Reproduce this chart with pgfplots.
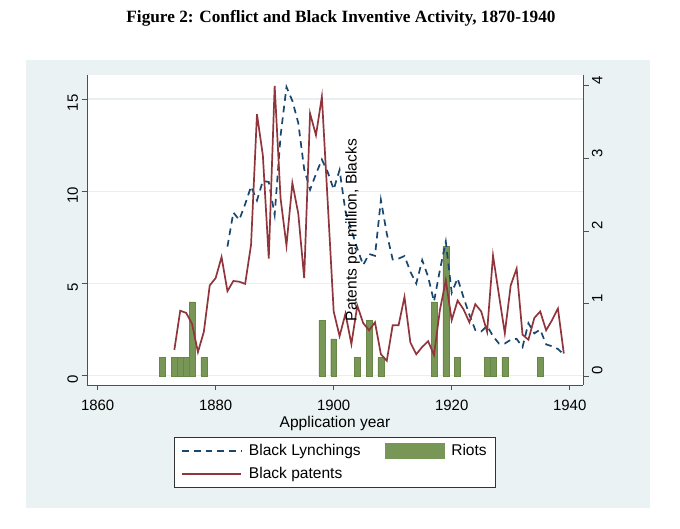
\documentclass[border=0pt]{standalone}
\usepackage{fontspec}
\setmainfont{Liberation Sans}
\newfontfamily\titlefont{Liberation Serif}
\usepackage{pgfplots}
\pgfplotsset{compat=1.18}
\definecolor{graphbg}{RGB}{234,242,243}
\definecolor{gridc}{RGB}{232,239,241}
\definecolor{lynch}{RGB}{26,71,111}
\definecolor{pat}{RGB}{144,53,59}
\definecolor{riot}{RGB}{120,150,85}
\definecolor{riotedge}{RGB}{104,134,70}
\definecolor{axc}{RGB}{80,80,80}
\newcommand{\lbl}{\fontsize{15}{18}\selectfont}
\newcommand{\lbll}{\fontsize{15.6}{18}\selectfont}
\pgfplotsset{
  lineleg/.style={legend image code/.code={\draw[##1] (0bp,0bp) -- (59bp,0bp);}},
  boxleg/.style={legend image code/.code={\fill[##1] (0bp,-7.5bp) rectangle (59bp,7.5bp);}},
}
\begin{document}
\begin{tikzpicture}[x=1bp,y=1bp]
\useasboundingbox (0,0) rectangle (680,529);
\fill[white] (0,0) rectangle (680,529);
\fill[graphbg] (26,21) rectangle (650,469);
\node[font=\titlefont\bfseries\fontsize{17.3}{20}\selectfont] at (341,511) {Figure 2: Conflict and Black Inventive Activity, 1870-1940};
\begin{axis}[
  at={(87bp,144bp)}, anchor=south west, scale only axis,
  width=496bp, height=310bp,
  xmin=1858.2, xmax=1942.25, ymin=-0.5, ymax=16.3,
  axis x line*=bottom, axis y line*=left,
  axis line style={-, draw=axc, line width=0.8bp},
  xtick={1860,1880,1900,1920,1940}, ytick={0,5,10,15},
  tick align=outside, major tick length=5.5bp,
  tick style={draw=axc, line width=0.8bp},
  ymajorgrids, grid style={draw=gridc, line width=1.2bp},
  axis background/.style={fill=white},
  /pgf/number format/assume math mode=true,
  /pgf/number format/1000 sep={},
  tick label style={font=\lbl},
  xticklabel style={yshift=-6.5bp},
  yticklabel style={rotate=90, anchor=south, xshift=-4bp},
  xlabel={Application year},
  xlabel style={font=\lbll, at={(axis description cs:0.5,-0.124)}, anchor=center},
  legend columns=2,
  legend cell align=left,
  legend style={at={(axis description cs:0.5,-0.1677)}, anchor=north,
    draw=black!80, fill=white, line width=0.6bp, font=\lbll,
    inner xsep=7bp, inner ysep=5bp,
    /tikz/every odd column/.append style={column sep=5bp},
    /tikz/every even column/.append style={column sep=22bp},
    row sep=6.6bp},
]
\addplot[ybar, bar width=1, bar shift=0pt, fill=riot, draw=riotedge, line width=0.4bp, forget plot] coordinates {
(1871,1) (1873,1) (1874,1) (1875,1) (1876,4) (1878,1)
(1898,3) (1900,2) (1904,1) (1906,3) (1908,1)
(1917,4) (1919,7) (1921,1) (1926,1) (1927,1) (1929,1) (1935,1)
};
\addplot[lynch, line width=1.7bp, dash pattern=on 6.7bp off 5bp, lineleg] coordinates {
(1882,7.0) (1883,8.85) (1884,8.45) (1885,9.3) (1886,10.26) (1887,9.5)
(1888,10.56) (1889,10.5) (1890,8.72) (1891,13.0) (1892,15.65) (1893,14.9)
(1894,13.7) (1895,11.2) (1896,10.08) (1897,10.94) (1898,11.72) (1899,11.03)
(1900,10.1) (1901,11.15) (1902,8.9) (1903,7.9) (1904,6.9) (1905,6.0)
(1906,6.6) (1907,6.5) (1908,9.53) (1909,7.7) (1910,6.3) (1911,6.35)
(1912,6.49) (1913,5.64) (1914,5.0) (1915,6.27) (1916,5.37) (1917,4.02)
(1918,5.73) (1919,7.27) (1920,4.5) (1921,5.28) (1922,4.25) (1923,3.3)
(1924,2.48) (1925,2.4) (1926,2.7) (1927,2.15) (1928,1.75) (1929,1.75)
(1930,1.95) (1931,2.0) (1932,1.55) (1933,2.85) (1934,2.3) (1935,2.5)
(1936,1.7) (1937,1.6) (1938,1.45) (1939,1.15)
};
\addlegendentry{Black Lynchings}
\addlegendimage{fill=riot, draw=riot, boxleg}
\addlegendentry{Riots}
\addlegendimage{pat, line width=1.7bp, lineleg}
\addlegendentry{Black patents}
\end{axis}
\begin{axis}[
  at={(87bp,144bp)}, anchor=south west, scale only axis,
  width=496bp, height=310bp,
  xmin=1858.2, xmax=1942.25, ymin=-0.124, ymax=4.15,
  axis x line=none, axis y line*=right,
  axis line style={-, draw=axc, line width=0.8bp},
  ytick={0,1,2,3,4},
  tick align=outside, major tick length=5.5bp,
  tick style={draw=axc, line width=0.8bp},
  /pgf/number format/assume math mode=true,
  tick label style={font=\lbl},
  yticklabel style={rotate=90, anchor=north, xshift=5.5bp},
]
\addplot[pat, line width=1.7bp] coordinates {
(1873,0.36) (1874,0.90) (1875,0.87) (1876,0.72) (1877,0.33) (1878,0.61)
(1879,1.25) (1880,1.35) (1881,1.64) (1882,1.17) (1883,1.31) (1884,1.30)
(1885,1.27) (1886,1.81) (1887,3.61) (1888,3.04) (1889,1.62) (1890,4.00)
(1891,2.45) (1892,1.80) (1893,2.66) (1894,2.24) (1895,1.35) (1896,3.62)
(1897,3.32) (1898,3.85) (1899,2.38) (1900,0.89) (1901,0.55) (1902,0.86)
(1903,0.44) (1904,0.97) (1905,0.73) (1906,0.63) (1907,0.74) (1908,0.30)
(1909,0.21) (1910,0.70) (1911,0.70) (1912,1.09) (1913,0.46) (1914,0.30)
(1915,0.40) (1916,0.48) (1917,0.29) (1918,0.91) (1919,1.32) (1920,0.77)
(1921,1.04) (1922,0.92) (1923,0.74) (1924,0.99) (1925,0.89) (1926,0.61)
(1927,1.66) (1928,1.12) (1929,0.59) (1930,1.25) (1931,1.48) (1932,0.57)
(1933,0.50) (1934,0.80) (1935,0.89) (1936,0.63) (1937,0.77) (1938,0.93)
(1939,0.31)
};
\node[rotate=90, font=\lbll] at (axis cs:1903.2,2.01) {Patents per million, Blacks};
\end{axis}
\end{tikzpicture}
\end{document}
